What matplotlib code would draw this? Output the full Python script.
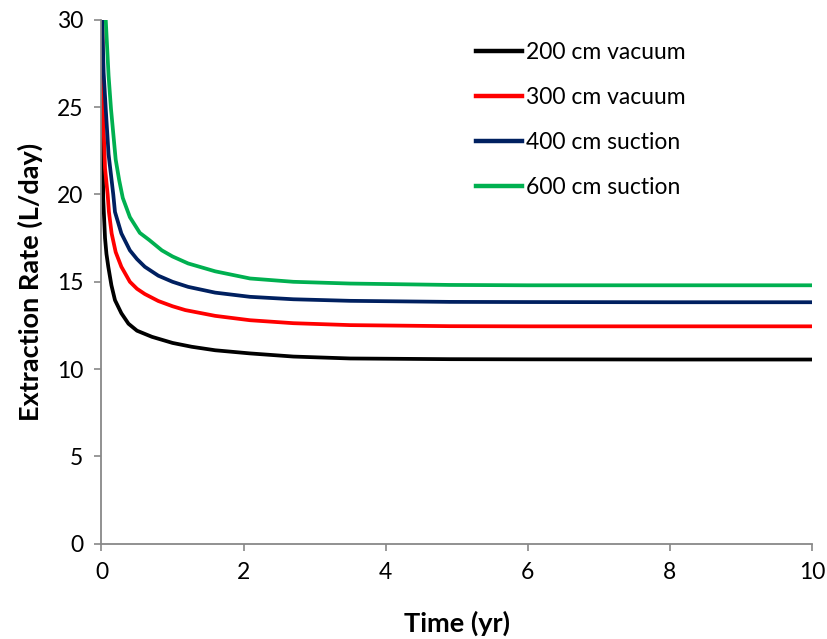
import matplotlib
matplotlib.use("Agg")
import matplotlib.pyplot as plt

# Data
t_200 = [0.0, 0.01, 0.025, 0.05, 0.07, 0.096, 0.14, 0.19, 0.28, 0.38, 0.5, 0.71, 1.0, 1.27, 1.6, 2.09, 2.7, 3.5, 4.9, 6.0, 8.0, 10.0]
v_200 = [40.0, 24.0, 19.7, 17.5, 16.6, 15.86, 14.8, 13.95, 13.2, 12.6, 12.2, 11.85, 11.5, 11.28, 11.08, 10.9, 10.72, 10.61, 10.57, 10.56, 10.55, 10.55]

t_300 = [0.0, 0.02, 0.05, 0.087, 0.105, 0.143, 0.2, 0.28, 0.4, 0.5, 0.61, 0.8, 1.0, 1.18, 1.6, 2.09, 2.7, 3.5, 4.9, 6.0, 8.0, 10.0]
v_300 = [40.0, 24.9, 21.5, 20.0, 19.0, 17.77, 16.7, 15.86, 15.0, 14.6, 14.3, 13.9, 13.6, 13.38, 13.05, 12.8, 12.63, 12.52, 12.46, 12.45, 12.45, 12.45]

t_400 = [0.0, 0.01, 0.03, 0.06, 0.1, 0.166, 0.19, 0.28, 0.4, 0.5, 0.61, 0.8, 1.0, 1.22, 1.6, 2.09, 2.7, 3.5, 4.9, 6.0, 8.0, 10.0]
v_400 = [40.0, 30.0, 27.0, 24.9, 22.3, 20.0, 19.0, 17.77, 16.8, 16.3, 15.86, 15.35, 15.0, 14.71, 14.38, 14.14, 14.0, 13.91, 13.85, 13.84, 13.83, 13.83]

t_600 = [0.0, 0.06, 0.1, 0.134, 0.2, 0.25, 0.3, 0.4, 0.54, 0.67, 0.85, 1.0, 1.22, 1.6, 2.09, 2.7, 3.5, 4.9, 6.0, 8.0, 10.0]
v_600 = [45.0, 30.0, 26.8, 24.9, 22.0, 20.8, 19.8, 18.7, 17.8, 17.4, 16.8, 16.45, 16.05, 15.6, 15.19, 15.0, 14.9, 14.82, 14.8, 14.8, 14.8]

labels = ["200 cm vacuum", "300 cm vacuum", "400 cm suction", "600 cm suction"]
colors = ["#000000", "#FF0000", "#002060", "#00B050"]

x_ticks = [0, 2, 4, 6, 8, 10]
y_ticks = [0, 5, 10, 15, 20, 25, 30]

plt.rcParams['font.family'] = ['Lato', 'DejaVu Sans']

fig = plt.figure(figsize=(8.27, 6.39), dpi=100)
ax = fig.add_axes([0.1227, 0.149, 0.8592, 0.820])

series = [(t_200, v_200), (t_300, v_300), (t_400, v_400), (t_600, v_600)]
for (t, v), lab, c in zip(series, labels, colors):
    ax.plot(t, v, color=c, lw=2.7, label=lab, solid_joinstyle='round')

ax.set_xlim(0, 10)
ax.set_ylim(0, 30)
ax.set_xticks(x_ticks)
ax.set_yticks(y_ticks)

for s in ['top', 'right']:
    ax.spines[s].set_visible(False)
for s in ['left', 'bottom']:
    ax.spines[s].set_color('#888888')
    ax.spines[s].set_linewidth(1.3)

ax.tick_params(axis='both', direction='out', length=5, width=1.2, color='#888888',
               labelsize=16.5, labelcolor='black')
ax.tick_params(axis='x', pad=8)
ax.tick_params(axis='y', pad=8)

ax.set_xlabel("Time (yr)", fontsize=19.5, fontweight='bold', labelpad=20)
ax.set_ylabel("Extraction Rate (L/day)", fontsize=19.5, fontweight='bold', labelpad=10)

leg = ax.legend(loc='upper left', bbox_to_anchor=(0.576, 0.934), bbox_transform=fig.transFigure,
                frameon=False, fontsize=16.5, handlelength=2.0, handletextpad=0.15,
                labelspacing=1.05, borderaxespad=0, borderpad=0)
for line in leg.get_lines():
    line.set_linewidth(3.2)

fig.savefig("out.png", dpi=100)
